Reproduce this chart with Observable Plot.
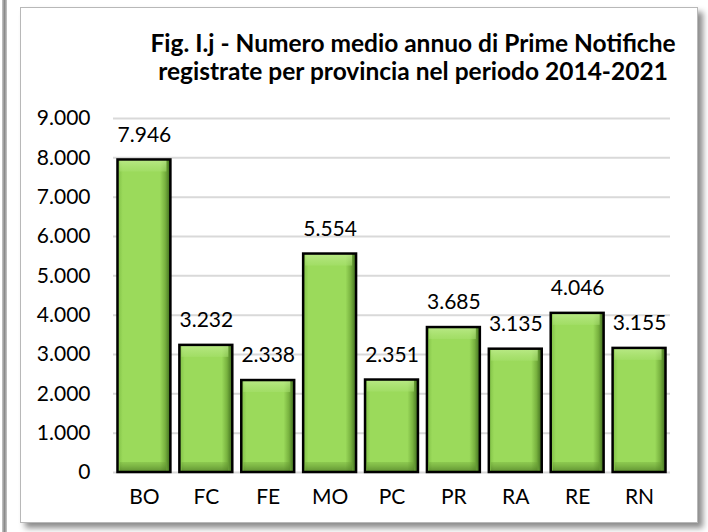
<!DOCTYPE html>
<html>
<head>
<meta charset="utf-8">
<script src="https://cdn.jsdelivr.net/npm/d3@7"></script>
<script src="https://cdn.jsdelivr.net/npm/@observablehq/plot@0.6"></script>
<style>
  html, body { margin: 0; padding: 0; background: #fff; }
  #wrap { position: relative; width: 708px; height: 532px; overflow: hidden; font-family: Lato, "Open Sans", sans-serif; }
  #leftedge { position: absolute; left: 2px; top: 0; width: 5px; height: 532px;
    background: linear-gradient(to right, #c8c8c8, #8a8a8a, #c8c8c8); }
  #panel { position: absolute; left: 20px; top: 7px; width: 676px; height: 514px;
    border: 1px solid #b8b8b8; background: #fff; box-shadow: 5px 5px 6px #8c8c8c; }
  #title { position: absolute; left: 130px; width: 566px; top: 28.5px; text-align: center;
    font-weight: bold; font-size: 24.5px; line-height: 28px; color: #000; white-space: nowrap; }
  #chart { position: absolute; left: 0; top: 0; }
</style>
</head>
<body>
<div id="wrap">
  <div id="leftedge"></div>
  <div id="panel"></div>
  <div id="chart"></div>
  <div id="title">Fig. I.j - Numero medio annuo di Prime Notifiche<br>registrate per provincia nel periodo 2014-2021</div>
</div>
<script>
const provinces = ["BO", "FC", "FE", "MO", "PC", "PR", "RA", "RE", "RN"];
const values = [7946, 3232, 2338, 5554, 2351, 3685, 3135, 4046, 3155];
const yTicks = [0, 1000, 2000, 3000, 4000, 5000, 6000, 7000, 8000, 9000];

const data = provinces.map((p, i) => ({prov: p, val: values[i]}));
const itFormat = d3.formatLocale({decimal: ",", thousands: ".", grouping: [3], currency: ["", "€"]}).format(",d");

const defs = () => {
  const g = d3.create("svg:defs");
  const h = g.append("linearGradient").attr("id", "barGrad").attr("x1", 0).attr("x2", 1).attr("y1", 0).attr("y2", 0);
  [[0, "#7fbf45"], [0.1, "#9bda5b"], [0.8, "#9bda5b"], [0.9, "#78b23f"], [1, "#3d6a1c"]]
    .forEach(([o, c]) => h.append("stop").attr("offset", o).attr("stop-color", c));
  const t = g.append("linearGradient").attr("id", "topGrad").attr("x1", 0).attr("x2", 0).attr("y1", 0).attr("y2", 1);
  [[0, "#c2ee92", 0.8], [1, "#a8e170", 0.5]]
    .forEach(([o, c, a]) => t.append("stop").attr("offset", o).attr("stop-color", c).attr("stop-opacity", a));
  const b = g.append("linearGradient").attr("id", "botGrad").attr("x1", 0).attr("x2", 0).attr("y1", 0).attr("y2", 1);
  [[0, "#6a9f35", 0.3], [1, "#4c7a24", 0.8]]
    .forEach(([o, c, a]) => b.append("stop").attr("offset", o).attr("stop-color", c).attr("stop-opacity", a));
  return g.node();
};

const chart = Plot.plot({
  width: 708,
  height: 532,
  marginTop: 118,
  marginBottom: 60,
  marginLeft: 113,
  marginRight: 38,
  style: {background: "transparent", fontFamily: "Lato, 'Open Sans', sans-serif", fontSize: "21px", color: "#000"},
  x: {domain: provinces, paddingInner: 0.145, paddingOuter: 0.0725, round: false, label: null, tickSize: 0, tickPadding: 17},
  y: {domain: [0, 9000], ticks: yTicks, tickFormat: itFormat, label: null, tickSize: 0, tickPadding: 23},
  marks: [
    defs,
    Plot.gridY(yTicks, {stroke: "#d9d9d9", strokeOpacity: 1, strokeWidth: 2}),
    Plot.barY(data, {x: "prov", y: "val", fill: "url(#barGrad)"}),
    Plot.barY(data, {x: "prov", y1: "val", y2: "val", insetBottom: -12, insetLeft: 2, insetRight: 4, fill: "url(#topGrad)"}),
    Plot.barY(data, {x: "prov", y1: 0, y2: 0, insetTop: -10, insetLeft: 2, insetRight: 4, fill: "url(#botGrad)"}),
    Plot.barY(data, {x: "prov", y: "val", fill: "none", stroke: "#000", strokeWidth: 2.5}),
    Plot.text(data, {x: "prov", y: "val", text: d => itFormat(d.val), dy: -25, fill: "#000", fontSize: 21})
  ]
});
document.getElementById("chart").appendChild(chart);
</script>
</body>
</html>
